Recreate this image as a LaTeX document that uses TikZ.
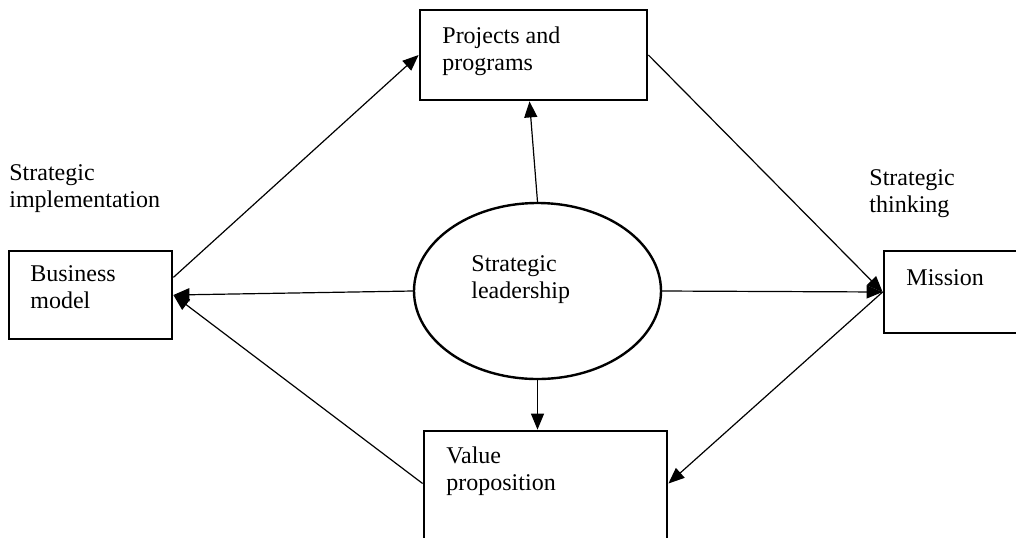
\documentclass[tikz,border=0pt]{standalone}
\usepackage{fontspec}
\setmainfont{Liberation Serif}
\usepackage{tikz}
\usetikzlibrary{positioning,arrows.meta,shapes.geometric}

\begin{document}
\begin{tikzpicture}[x=0.5pt,y=-0.5pt,
    box/.style={draw,line width=1.4pt,minimum width=#1,inner sep=0pt},
    txt/.style={anchor=north west,align=left,inner sep=0pt,font=\fontsize{12}{13.8}\selectfont},
    arr/.style={-{Triangle[length=8pt,width=6.5pt]},line width=0.6pt}]
    \clip (0,0) rectangle (1016,537);

    \node[box=113.5pt,minimum height=45pt] (proj) at (533.5,55) {};
    \node[box=81.5pt,minimum height=44pt] (busi) at (90.5,295) {};
    \node[box=78pt,minimum height=41pt] (miss) at (962,292) {};
    \node[box=121.5pt,minimum height=64.5pt] (val) at (545.5,495.5) {};
    \node[ellipse,draw,line width=1.2pt,minimum width=123.5pt,minimum height=88pt,inner sep=0pt] (lead) at (537.5,291) {};

    \node[txt] (projtxt) at (442,26) {Projects and\\programs};
    \node[txt] (busitxt) at (30,265) {Business\\model};
    \node[txt] (misstxt) at (906,269) {Mission};
    \node[txt] (valtxt) at (446,446) {Value\\proposition};
    \node[txt] (leadtxt) at (471,255) {Strategic\\leadership};
    \node[txt] (impl) at (9,164) {Strategic\\implementation};
    \node[txt] (think) at (869,169) {Strategic\\thinking};

    \draw[arr] (busi.12) -- (proj.west);
    \draw[arr] (lead.north) -- ([xshift=-2pt]proj.south);
    \draw[arr] (proj.east) -- (miss.west);
    \draw[arr] (lead.east) -- (miss.west);
    \draw[arr] (lead.west) -- (busi.east);
    \draw[arr] ([yshift=6pt]val.west) -- (busi.east);
    \draw[arr] (lead.south) -- (lead.south |- val.north);
    \draw[arr] (miss.west) -- ([yshift=6pt]val.east);

\end{tikzpicture}
\end{document}
